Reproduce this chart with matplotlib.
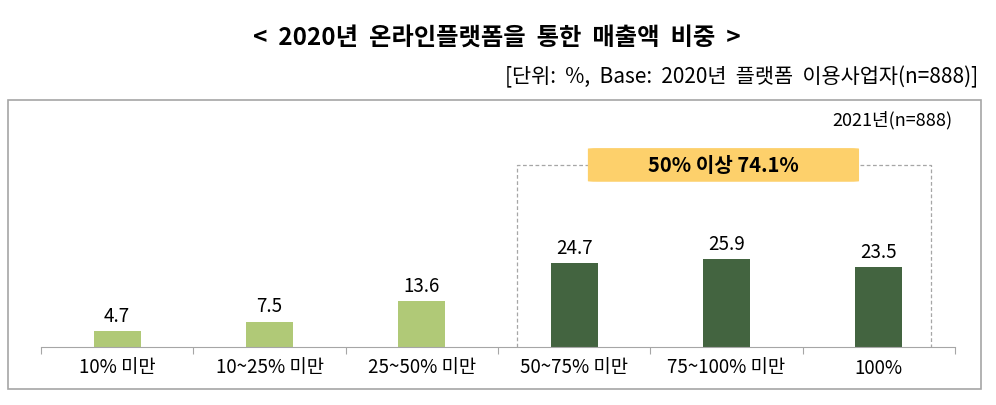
import matplotlib.pyplot as plt
from matplotlib.patches import Rectangle, FancyBboxPatch

plt.rcParams['font.family'] = ['Noto Sans CJK KR', 'DejaVu Sans']

# 데이터
categories = ['10% 미만', '10~25% 미만', '25~50% 미만', '50~75% 미만', '75~100% 미만', '100%']
values = [4.7, 7.5, 13.6, 24.7, 25.9, 23.5]
colors = ['#b0c977', '#b0c977', '#b0c977', '#436440', '#436440', '#436440']
summary_label = '50% 이상 74.1%'

W, H = 996, 405
fig = plt.figure(figsize=(W / 100, H / 100), dpi=100)

# 바깥 테두리
fig.patches.append(Rectangle((8 / W, 1 - 389 / H), 973 / W, 289 / H,
                             transform=fig.transFigure, fill=False,
                             edgecolor='#a6a6a6', linewidth=1.2))

fig.text(497 / W, 1 - 38 / H, '<  2020년  온라인플랫폼을  통한  매출액  비중  >',
         ha='center', va='center', fontsize=17.5, fontweight='bold')
fig.text(978 / W, 1 - 77 / H, '[단위:  %,  Base:  2020년  플랫폼  이용사업자(n=888)]',
         ha='right', va='center', fontsize=15)
fig.text(952 / W, 1 - 120 / H, '2021년(n=888)', ha='right', va='center', fontsize=13)

ax = fig.add_axes([41 / W, 1 - 347 / H, 914 / W, 247 / H])
x = range(len(values))
ax.bar(x, values, width=0.31, color=colors)
for i, v in zip(x, values):
    ax.annotate(f'{v}', (i, v), xytext=(0, 3), textcoords='offset points',
                ha='center', va='bottom', fontsize=13.5)

ax.set_xlim(-0.5, 5.5)
ax.set_ylim(0, 247 / 3.4)
for s in ['top', 'right', 'left']:
    ax.spines[s].set_visible(False)
ax.spines['bottom'].set_color('#a6a6a6')
ax.set_yticks([])
ax.set_xticks([i - 0.5 for i in range(len(values) + 1)])
ax.set_xticklabels([])
ax.tick_params(axis='x', length=5, color='#a6a6a6')
for i, c in enumerate(categories):
    ax.text(i, -21 / 3.4, c, ha='center', va='center', fontsize=13.5)

# 50% 이상 점선 박스
ax.plot([2.625, 2.625, 5.34, 5.34], [0, 53.5, 53.5, 0], linestyle=(0, (3, 2)),
        color='#a6a6a6', linewidth=0.9, clip_on=False)
ax.add_patch(FancyBboxPatch((3.09, 48.6), 1.78, 9.9,
                            boxstyle='round,pad=0,rounding_size=0.06',
                            facecolor='#fdd06b', edgecolor='none',
                            mutation_aspect=3.0, clip_on=False, zorder=3))
ax.text(3.98, 53.5, summary_label, ha='center', va='center',
        fontsize=14.5, fontweight='bold', zorder=4)

fig.savefig('out.png', dpi=100)
